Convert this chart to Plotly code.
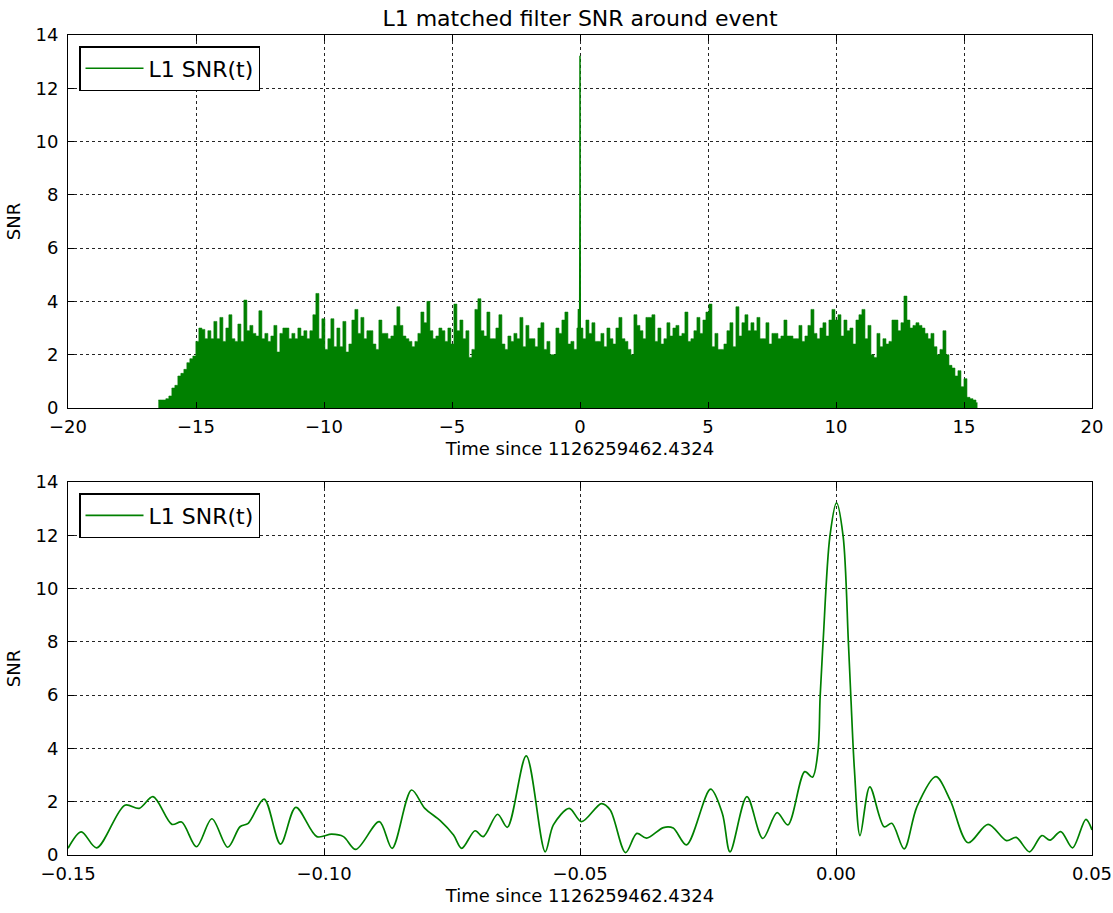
import numpy as np
import plotly.graph_objects as go

# ---------------- data ----------------
# Top panel: upper envelope of the dense SNR trace (read every ~0.117 s)
env_t0 = -16.47
env_dt = 0.1172
env_snr = [
    0.3, 0.3, 0.3, 0.35, 0.45, 0.75, 0.85, 1.2, 1.3, 1.45, 1.7, 1.85, 1.95, 2.5, 3.0, 2.95, 2.6, 2.9, 2.6, 3.25,
    2.6, 3.4, 2.5, 3.0, 3.5, 2.6, 2.5, 3.15, 2.5, 4.05, 2.9, 3.1, 2.8, 2.7, 3.65, 2.6, 2.8, 2.5, 2.7, 3.1,
    2.1, 2.8, 3.0, 3.0, 2.6, 2.8, 2.6, 3.0, 2.7, 2.9, 2.6, 2.9, 3.5, 4.3, 2.6, 3.35, 2.2, 2.6, 3.35, 2.3,
    3.0, 2.3, 3.25, 2.1, 2.4, 3.3, 3.7, 2.8,
    3.4, 2.6, 2.9, 2.9, 2.4, 2.2, 3.3, 2.8, 2.8, 2.6, 2.7, 3.1, 3.8, 3.1, 2.7, 2.6, 2.5, 2.3, 2.5, 2.8,
    3.6, 3.2, 4.0, 2.9, 2.6, 2.7, 3.0, 2.9, 2.5, 3.0, 2.4, 3.9, 2.9, 3.3, 2.6, 2.9, 1.9, 2.2, 3.7, 4.1,
    2.9, 2.7, 3.6, 2.6, 2.6, 3.0, 3.5, 2.4, 2.2, 2.7, 2.5, 2.8, 2.6, 3.4, 2.3, 3.1, 2.6, 2.6, 2.3, 3.0,
    3.2, 2.2, 2.5, 2.0, 2.0, 3.0, 2.8, 3.3, 3.6, 2.4,
    2.5, 2.2, 3.0, 3.0, 2.6, 3.3, 2.8, 3.2, 2.5, 2.5, 2.8, 2.3, 3.0, 2.6, 2.4, 3.0, 3.4, 2.6, 2.5, 2.2,
    2.0, 3.5, 3.1, 2.9, 2.6, 3.4, 3.4, 3.5, 2.5, 3.0, 2.4, 2.6, 3.2, 2.7, 3.0, 3.1, 2.7, 2.8, 3.6, 2.5,
    2.6, 2.9, 3.4, 2.8, 3.3, 3.6, 3.9, 2.3, 2.8, 2.2, 2.2, 2.4, 2.9, 3.2, 2.3, 3.8, 2.7, 3.2, 3.5, 2.9,
    3.2, 2.9, 3.4, 2.6, 2.6, 3.2, 2.4, 2.8, 2.8, 2.6,
    2.7, 3.3, 2.7, 2.7, 2.6, 2.6, 3.1, 2.5, 2.7, 3.1, 3.7, 2.8, 2.6, 3.0, 3.2, 2.7, 3.3, 3.7, 3.3, 3.5,
    2.7, 3.3, 2.9, 3.0, 2.4, 3.3, 3.5, 3.7, 2.6, 3.1, 2.0, 1.9, 2.8, 2.3, 2.6, 2.4, 2.5, 3.3, 3.3, 2.9,
    3.2, 4.2, 3.3, 3.0, 3.1, 3.2, 3.1, 3.0, 2.8, 2.6, 2.8, 2.3, 2.0, 2.2, 2.9, 2.0, 1.6, 1.5, 1.2, 1.4,
    0.8, 1.1, 0.4, 0.35, 0.3, 0.2,
]
env_time = env_t0 + env_dt * np.arange(len(env_snr))

# Zoomed SNR around the event (time since GPS 1126259462.4324, seconds)
zoom_time = [
    -0.1500, -0.1474, -0.1444, -0.1389, -0.1361, -0.1334, -0.1297, -0.1278, -0.1249, -0.1219,
    -0.1188, -0.1164, -0.1148, -0.1117, -0.1085, -0.1055, -0.1014, -0.0985, -0.0962, -0.0938,
    -0.0892, -0.0867, -0.0829, -0.0803, -0.0773, -0.0747, -0.0731, -0.0705, -0.0689, -0.0661,
    -0.0642, -0.0605, -0.0568, -0.0552, -0.0521, -0.0497, -0.0458, -0.0441, -0.0411, -0.0389,
    -0.0370, -0.0337, -0.0318, -0.0292, -0.0245, -0.0222, -0.0207, -0.0174, -0.0143, -0.0115,
    -0.0094, -0.0061, -0.0046, -0.0035, -0.0031, -0.0025, -0.0012, 0.0001, 0.0014, 0.0024,
    0.0029, 0.0036, 0.0047, 0.0066, 0.0094, 0.0109, 0.0133, 0.0158, 0.0195, 0.0223,
    0.0258, 0.0297, 0.0333, 0.0352, 0.0378, 0.0402, 0.0418, 0.0439, 0.0462, 0.0488,
    0.0500,
]
zoom_snr = [
    0.25, 0.87, 0.27, 1.87, 1.75, 2.19, 1.15, 1.24, 0.31, 1.36,
    0.29, 1.06, 1.19, 2.10, 0.41, 1.79, 0.69, 0.78, 0.69, 0.21,
    1.25, 0.25, 2.44, 1.75, 1.29, 0.75, 0.25, 0.91, 0.69, 1.53,
    1.04, 3.72, 0.12, 1.13, 1.75, 1.25, 1.93, 1.69, 0.09, 0.81,
    0.63, 1.03, 1.01, 0.38, 2.47, 1.56, 0.12, 2.19, 0.62, 1.59,
    1.13, 3.13, 2.92, 3.94, 5.94, 8.07, 11.95, 13.22, 11.95, 8.07,
    5.94, 3.2, 0.73, 2.56, 1.06, 1.19, 0.23, 1.81, 2.94, 2.06,
    0.46, 1.15, 0.54, 0.66, 0.12, 0.73, 0.56, 0.88, 0.27, 1.34,
    0.94,
]

title_text = "L1 matched filter SNR around event"
xlabel = "Time since 1126259462.4324"
ylabel = "SNR"
series_name = "L1 SNR(t)"

# ---------------- figure ----------------
GREEN = "#008000"
FONT = "DejaVu Sans"

fig = go.Figure()

fig.add_trace(go.Scatter(
    x=env_time, y=env_snr, mode="lines", line=dict(color=GREEN, width=0.6, shape="hvh"),
    fill="tozeroy", fillcolor=GREEN, showlegend=False, hoverinfo="skip",
    xaxis="x", yaxis="y",
))
fig.add_trace(go.Scatter(
    x=zoom_time, y=zoom_snr, mode="lines", line=dict(color=GREEN, width=1.5),
    name=series_name, legend="legend", xaxis="x", yaxis="y",
))
fig.add_trace(go.Scatter(
    x=zoom_time, y=zoom_snr, mode="lines",
    line=dict(color=GREEN, width=1.7, shape="spline", smoothing=0.9),
    name=series_name, legend="legend2", xaxis="x2", yaxis="y2",
))

W, H = 1113, 913
ml, mr, mt, mb = 68, 21, 35, 58
ph = H - mt - mb

def py(px_from_top):
    return (H - mb - px_from_top) / ph

axis_common = dict(
    showline=True, linecolor="black", linewidth=1, mirror="ticks",
    ticks="inside", ticklen=6, tickwidth=1, tickcolor="black",
    showgrid=True, gridcolor="rgba(0,0,0,0.85)", griddash="dot", gridwidth=1,
    zeroline=False, automargin=False,
    tickfont=dict(family=FONT, size=18, color="black"),
)

fig.update_layout(
    width=W, height=H,
    margin=dict(l=ml, r=mr, t=mt, b=mb, autoexpand=False),
    paper_bgcolor="white", plot_bgcolor="white",
    font=dict(family=FONT, color="black"),
    title=dict(text=title_text, x=0.5, xref="paper", xanchor="center",
               y=1 - 18 / H, yref="container", yanchor="middle",
               font=dict(family=FONT, size=22, color="black")),
    xaxis=dict(domain=[0, 1], anchor="y", range=[-20, 20], tick0=0, dtick=5,
               ticklabelstandoff=2,
               title=dict(text=xlabel, standoff=6, font=dict(family=FONT, size=18)),
               **axis_common),
    yaxis=dict(domain=[py(408), 1], anchor="x", range=[0, 14], tick0=0, dtick=2,
               ticklabelstandoff=5,
               title=dict(text=ylabel, standoff=10, font=dict(family=FONT, size=18)),
               **axis_common),
    xaxis2=dict(domain=[0, 1], anchor="y2", range=[-0.15, 0.05], tick0=0, dtick=0.05,
                tickformat=".2f", ticklabelstandoff=2,
                title=dict(text=xlabel, standoff=6, font=dict(family=FONT, size=18)),
                **axis_common),
    yaxis2=dict(domain=[0, py(482)], anchor="x2", range=[0, 14], tick0=0, dtick=2,
                ticklabelstandoff=5,
                title=dict(text=ylabel, standoff=10, font=dict(family=FONT, size=18)),
                **axis_common),
    legend=dict(x=(79 - ml) / (W - ml - mr), y=py(46), xanchor="left", yanchor="top",
                bordercolor="black", borderwidth=1.5, bgcolor="white", itemwidth=58,
                font=dict(family=FONT, size=22, color="black")),
    legend2=dict(x=(79 - ml) / (W - ml - mr), y=py(493), xanchor="left", yanchor="top",
                 bordercolor="black", borderwidth=1.5, bgcolor="white", itemwidth=58,
                 font=dict(family=FONT, size=22, color="black")),
)

fig.write_html("out.html")
